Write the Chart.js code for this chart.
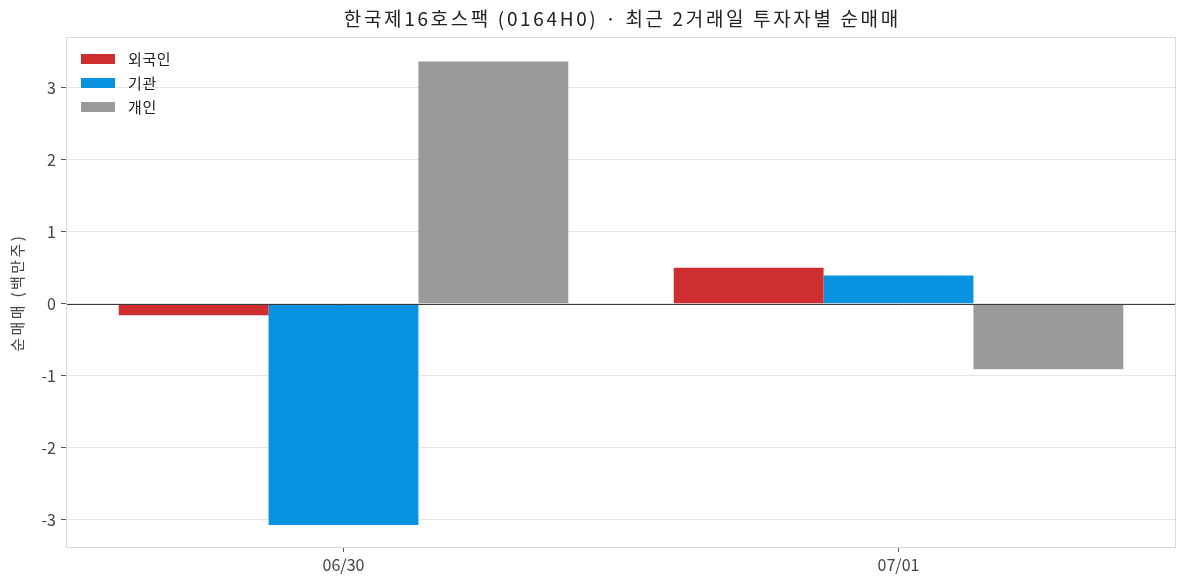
<!DOCTYPE html>
<html><head><meta charset="utf-8">
<script src="https://cdn.jsdelivr.net/npm/chart.js@4.4.1/dist/chart.umd.min.js"></script>
<style>html,body{margin:0;padding:0;background:#fff}#wrap{width:1187px;height:587px}</style>
</head><body><div id="wrap"><canvas id="c" width="1187" height="587"></canvas></div>
<script>
const categories = ['06/30', '07/01'];
const foreignVals = [-0.16, 0.50];
const instVals = [-3.07, 0.39];
const retailVals = [3.36, -0.91];
const seriesNames = ['외국인', '기관', '개인'];
const seriesColors = ['#CF2E2E', '#0893E1', '#9A9A9A'];
const yTicks = [-3, -2, -1, 0, 1, 2, 3];
const titleText = '한국제16호스팩 (0164H0) · 최근 2거래일 투자자별 순매매';
const yTitle = '순매매 (백만주)';
const FONT = "'Noto Sans CJK KR', 'Noto Sans', sans-serif";

function fitText(ctx, text, x, y, targetW) {
  ctx.letterSpacing = '0px';
  const w = ctx.measureText(text).width;
  const n = [...text].length;
  const ls = Math.max(0, (targetW - w) / n);
  ctx.letterSpacing = ls.toFixed(2) + 'px';
  const w2 = ctx.measureText(text).width - ls;
  ctx.textAlign = 'left';
  ctx.fillText(text, x - w2 / 2, y);
  ctx.letterSpacing = '0px';
}

const framePlugin = {
  id: 'frame',
  afterDatasetsDraw(chart) {
    const {ctx, chartArea: a, scales} = chart;
    const y0 = Math.round(scales.y.getPixelForValue(0)) + 0.5;
    ctx.save();
    ctx.strokeStyle = '#3a3a3a';
    ctx.lineWidth = 1;
    ctx.beginPath(); ctx.moveTo(a.left, y0); ctx.lineTo(a.right, y0); ctx.stroke();
    ctx.strokeStyle = '#d9d9d9';
    ctx.strokeRect(a.left + 0.5, a.top + 0.5, a.right - a.left - 1, a.bottom - a.top);
    // legend
    ctx.font = '15px ' + FONT;
    ctx.textBaseline = 'middle';
    ctx.textAlign = 'left';
    chart.data.datasets.forEach((ds, i) => {
      const yc = a.top + 22 + i * 24;
      ctx.fillStyle = ds.backgroundColor;
      ctx.fillRect(a.left + 15, yc - 5, 34, 10);
      ctx.fillStyle = '#222';
      ctx.letterSpacing = '0.6px';
      ctx.fillText(ds.label, a.left + 62, yc);
      ctx.letterSpacing = '0px';
    });
    // title
    ctx.font = '19px ' + FONT;
    ctx.fillStyle = '#222';
    fitText(ctx, titleText, 621, 19, 557);
    // y title
    ctx.translate(17, 294);
    ctx.rotate(-Math.PI / 2);
    ctx.font = '15px ' + FONT;
    ctx.fillStyle = '#444';
    fitText(ctx, yTitle, 0, 0, 118);
    ctx.restore();
  }
};

new Chart(document.getElementById('c'), {
  type: 'bar',
  data: {
    labels: categories,
    datasets: [
      {label: seriesNames[0], data: foreignVals, backgroundColor: seriesColors[0]},
      {label: seriesNames[1], data: instVals, backgroundColor: seriesColors[1]},
      {label: seriesNames[2], data: retailVals, backgroundColor: seriesColors[2]}
    ]
  },
  options: {
    responsive: false,
    animation: false,
    devicePixelRatio: 1,
    layout: {padding: {left: 0, right: 11, top: 37, bottom: 0}},
    datasets: {bar: {categoryPercentage: 0.81, barPercentage: 1.0, borderWidth: 0}},
    plugins: {
      legend: {display: false},
      tooltip: {enabled: false},
      title: {display: false}
    },
    scales: {
      x: {
        grid: {display: true, offset: false, drawOnChartArea: false, drawTicks: true, tickLength: 5, tickColor: '#555'},
        border: {display: false},
        ticks: {color: '#444', font: {family: FONT, size: 16}, padding: 3},
        afterFit(s) { s.height = 40; }
      },
      y: {
        min: -3.375, max: 3.70,
        grid: {color: '#e6e6e6', drawTicks: true, tickLength: 5, tickColor: '#555'},
        border: {display: false},
        ticks: {color: '#444', font: {family: FONT, size: 16}, padding: 5,
          callback: v => String(Math.round(v))},
        afterBuildTicks(s) { s.ticks = yTicks.map(v => ({value: v})); },
        afterFit(s) { s.width = 66; }
      }
    }
  },
  plugins: [framePlugin]
});
</script>
</body></html>
